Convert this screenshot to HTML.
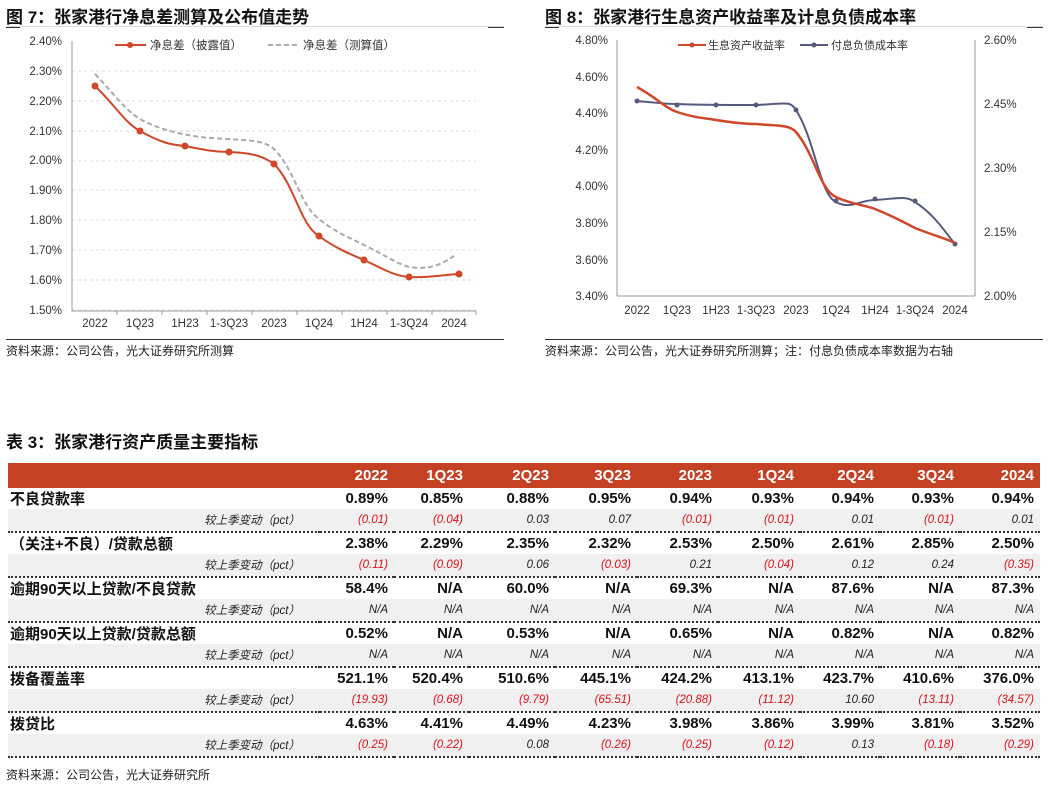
<!DOCTYPE html><html><head><meta charset="utf-8"><style>
body{margin:0;width:1055px;height:786px;background:#fff;font-family:"Liberation Sans","Noto Sans CJK SC",sans-serif;position:relative;overflow:hidden}
.a{position:absolute;white-space:nowrap}
.t{font-size:17px;font-weight:bold;color:#111}
.src{font-size:12px;color:#222}
table{position:absolute;left:8px;top:463px;width:1032px;border-collapse:collapse;font-size:15px;table-layout:fixed}
td{padding:0 6px 0 0;text-align:right;white-space:nowrap;overflow:visible}
tr.h td{background:#c44223;color:#fff;font-weight:bold;height:25px;font-size:15px}
tr.m td{height:21px;font-weight:bold;color:#111}
tr.m td:first-child{text-align:left;padding-left:2px}
tr.s td{height:22px;background:#f0f0f0;font-style:italic;font-size:11.5px;color:#222;border-bottom:2px dotted #333}
tr.s td:first-child{padding-right:20px}
tr.s td.r{color:#e0101a}
</style></head><body>
<div class="a t" style="left:6px;top:3px">图 7：张家港行净息差测算及公布值走势</div>
<div class="a t" style="left:545px;top:3px">图 8：张家港行生息资产收益率及计息负债成本率</div>
<div class="a" style="left:6px;top:26px;width:498px;border-top:1px solid #ddd"></div>
<div class="a" style="left:545px;top:26px;width:498px;border-top:1px solid #ddd"></div>
<div class="a" style="left:6px;top:27px;width:14px;border-top:1px solid #333"></div>
<div class="a" style="left:488px;top:27px;width:16px;border-top:1px solid #333"></div>
<div class="a" style="left:545px;top:27px;width:14px;border-top:1px solid #333"></div>
<div class="a" style="left:1027px;top:27px;width:16px;border-top:1px solid #333"></div>
<div class="a" style="left:6px;top:339px;width:498px;border-top:1px solid #333"></div>
<div class="a" style="left:545px;top:339px;width:498px;border-top:1px solid #333"></div>
<div class="a src" style="left:6px;top:342px">资料来源：公司公告，光大证券研究所测算</div>
<div class="a src" style="left:545px;top:342px">资料来源：公司公告，光大证券研究所测算；注：付息负债成本率数据为右轴</div>
<svg class="a" style="left:0;top:30px" width="1055" height="310" font-family="Liberation Sans,Noto Sans CJK SC,sans-serif" font-size="11.5" fill="#333">
<g stroke="#ddd" stroke-dasharray="3,3">
<line x1="72" x2="476" y1="41" y2="41"/><line x1="72" x2="476" y1="71" y2="71"/><line x1="72" x2="476" y1="101" y2="101"/><line x1="72" x2="476" y1="131" y2="131"/><line x1="72" x2="476" y1="160" y2="160"/><line x1="72" x2="476" y1="190" y2="190"/><line x1="72" x2="476" y1="220" y2="220"/><line x1="72" x2="476" y1="250" y2="250"/><line x1="72" x2="476" y1="280" y2="280"/>
</g>
<g transform="translate(0,-30)">
<g stroke="#999" fill="none"><path d="M72 41V311H476"/><path d="M117 311v4M162 311v4M207 311v4M252 311v4M297 311v4M342 311v4M387 311v4M432 311v4M476 311v4"/></g>
<g text-anchor="end"><text x="62" y="45">2.40%</text><text x="62" y="75">2.30%</text><text x="62" y="105">2.20%</text><text x="62" y="135">2.10%</text><text x="62" y="164">2.00%</text><text x="62" y="194">1.90%</text><text x="62" y="224">1.80%</text><text x="62" y="254">1.70%</text><text x="62" y="284">1.60%</text><text x="62" y="314">1.50%</text></g>
<g text-anchor="middle"><text x="95" y="327">2022</text><text x="140" y="327">1Q23</text><text x="185" y="327">1H23</text><text x="229" y="327">1-3Q23</text><text x="274" y="327">2023</text><text x="319" y="327">1Q24</text><text x="364" y="327">1H24</text><text x="409" y="327">1-3Q24</text><text x="454" y="327">2024</text></g>
<path d="M95 74C115 95 125 110 140 119C160 130 180 134 200 137C240 141 262 138 274 149C295 170 300 205 319 219C335 232 350 238 364 245C385 255 395 263 409 267C430 270 440 265 454 256" stroke="#aaa" stroke-width="2" stroke-dasharray="5,3" fill="none"/>
<path d="M95 86C115 105 125 123 140 131C160 142 170 145 185 146C205 150 215 152 229 152C250 153 262 155 274 164C295 185 300 225 319 236C335 248 350 254 364 260C385 270 395 276 409 277C430 278 440 275 459 274" stroke="#d0472a" stroke-width="2" fill="none"/>
<g fill="#d0472a"><circle cx="95" cy="86" r="3.5"/><circle cx="140" cy="131" r="3.5"/><circle cx="185" cy="146" r="3.5"/><circle cx="229" cy="152" r="3.5"/><circle cx="274" cy="164" r="3.5"/><circle cx="319" cy="236" r="3.5"/><circle cx="364" cy="260" r="3.5"/><circle cx="409" cy="277" r="3.5"/><circle cx="459" cy="274" r="3.5"/></g>
<line x1="115" x2="146" y1="45" y2="45" stroke="#d0472a" stroke-width="2"/><circle cx="130" cy="45" r="3" fill="#d0472a"/>
<text x="150" y="49">净息差（披露值）</text>
<line x1="268" x2="298" y1="45" y2="45" stroke="#aaa" stroke-width="2" stroke-dasharray="5,3"/>
<text x="303" y="49">净息差（测算值）</text>
<g stroke="#999" fill="none"><path d="M617 296H975M617 40V296M975 40V296"/></g>
<g text-anchor="end"><text x="608" y="44">4.80%</text><text x="608" y="81">4.60%</text><text x="608" y="117">4.40%</text><text x="608" y="154">4.20%</text><text x="608" y="190">4.00%</text><text x="608" y="227">3.80%</text><text x="608" y="264">3.60%</text><text x="608" y="300">3.40%</text></g>
<g><text x="984" y="44">2.60%</text><text x="984" y="108">2.45%</text><text x="984" y="172">2.30%</text><text x="984" y="236">2.15%</text><text x="984" y="300">2.00%</text></g>
<g text-anchor="middle"><text x="637" y="314">2022</text><text x="677" y="314">1Q23</text><text x="716" y="314">1H23</text><text x="756" y="314">1-3Q23</text><text x="796" y="314">2023</text><text x="836" y="314">1Q24</text><text x="875" y="314">1H24</text><text x="915" y="314">1-3Q24</text><text x="955" y="314">2024</text></g>
<path d="M637 101C660 103 665 104 677 104C700 105 720 105 756 105C785 104 790 100 796 110C815 140 820 195 836 202C850 210 860 200 875 200C895 199 905 195 915 202C935 215 945 232 955 244" stroke="#555a7e" stroke-width="2" fill="none"/>
<g fill="#555a7e"><circle cx="637" cy="101" r="2.5"/><circle cx="677" cy="105" r="2.5"/><circle cx="716" cy="105" r="2.5"/><circle cx="756" cy="105" r="2.5"/><circle cx="796" cy="110" r="2.5"/><circle cx="836" cy="201" r="2.5"/><circle cx="875" cy="199" r="2.5"/><circle cx="915" cy="201" r="2.5"/><circle cx="955" cy="244" r="2.5"/></g>
<path d="M637 87C660 100 665 108 677 112C695 118 705 118 716 120C735 123 745 124 756 124C780 126 790 125 796 132C815 155 820 190 836 197C850 204 865 205 875 209C895 217 905 223 915 228C935 236 945 238 955 243" stroke="#d0472a" stroke-width="2.5" fill="none"/>
<line x1="678" x2="706" y1="45" y2="45" stroke="#d0472a" stroke-width="2"/><circle cx="692" cy="45" r="2.5" fill="#d0472a"/>
<text x="708" y="49" font-size="11">生息资产收益率</text>
<line x1="800" x2="828" y1="45" y2="45" stroke="#555a7e" stroke-width="2"/><circle cx="814" cy="45" r="2.5" fill="#555a7e"/>
<text x="831" y="49" font-size="11">付息负债成本率</text>
</g>
</svg>
<div class="a t" style="left:6px;top:428px">表 3：张家港行资产质量主要指标</div>
<table>
<colgroup><col style="width:312px"><col style="width:74px"><col style="width:75px"><col style="width:86px"><col style="width:82px"><col style="width:81px"><col style="width:82px"><col style="width:80px"><col style="width:80px"><col style="width:80px"></colgroup>
<tr class="h"><td></td><td>2022</td><td>1Q23</td><td>2Q23</td><td>3Q23</td><td>2023</td><td>1Q24</td><td>2Q24</td><td>3Q24</td><td>2024</td></tr>
<tr class="m"><td>不良贷款率</td><td>0.89%</td><td>0.85%</td><td>0.88%</td><td>0.95%</td><td>0.94%</td><td>0.93%</td><td>0.94%</td><td>0.93%</td><td>0.94%</td></tr>
<tr class="s"><td>较上季变动（pct）</td><td class="r">(0.01)</td><td class="r">(0.04)</td><td>0.03</td><td>0.07</td><td class="r">(0.01)</td><td class="r">(0.01)</td><td>0.01</td><td class="r">(0.01)</td><td>0.01</td></tr>
<tr class="m"><td>（关注+不良）/贷款总额</td><td>2.38%</td><td>2.29%</td><td>2.35%</td><td>2.32%</td><td>2.53%</td><td>2.50%</td><td>2.61%</td><td>2.85%</td><td>2.50%</td></tr>
<tr class="s"><td>较上季变动（pct）</td><td class="r">(0.11)</td><td class="r">(0.09)</td><td>0.06</td><td class="r">(0.03)</td><td>0.21</td><td class="r">(0.04)</td><td>0.12</td><td>0.24</td><td class="r">(0.35)</td></tr>
<tr class="m"><td>逾期90天以上贷款/不良贷款</td><td>58.4%</td><td>N/A</td><td>60.0%</td><td>N/A</td><td>69.3%</td><td>N/A</td><td>87.6%</td><td>N/A</td><td>87.3%</td></tr>
<tr class="s"><td>较上季变动（pct）</td><td>N/A</td><td>N/A</td><td>N/A</td><td>N/A</td><td>N/A</td><td>N/A</td><td>N/A</td><td>N/A</td><td>N/A</td></tr>
<tr class="m"><td>逾期90天以上贷款/贷款总额</td><td>0.52%</td><td>N/A</td><td>0.53%</td><td>N/A</td><td>0.65%</td><td>N/A</td><td>0.82%</td><td>N/A</td><td>0.82%</td></tr>
<tr class="s"><td>较上季变动（pct）</td><td>N/A</td><td>N/A</td><td>N/A</td><td>N/A</td><td>N/A</td><td>N/A</td><td>N/A</td><td>N/A</td><td>N/A</td></tr>
<tr class="m"><td>拨备覆盖率</td><td>521.1%</td><td>520.4%</td><td>510.6%</td><td>445.1%</td><td>424.2%</td><td>413.1%</td><td>423.7%</td><td>410.6%</td><td>376.0%</td></tr>
<tr class="s"><td>较上季变动（pct）</td><td class="r">(19.93)</td><td class="r">(0.68)</td><td class="r">(9.79)</td><td class="r">(65.51)</td><td class="r">(20.88)</td><td class="r">(11.12)</td><td>10.60</td><td class="r">(13.11)</td><td class="r">(34.57)</td></tr>
<tr class="m"><td>拨贷比</td><td>4.63%</td><td>4.41%</td><td>4.49%</td><td>4.23%</td><td>3.98%</td><td>3.86%</td><td>3.99%</td><td>3.81%</td><td>3.52%</td></tr>
<tr class="s"><td>较上季变动（pct）</td><td class="r">(0.25)</td><td class="r">(0.22)</td><td>0.08</td><td class="r">(0.26)</td><td class="r">(0.25)</td><td class="r">(0.12)</td><td>0.13</td><td class="r">(0.18)</td><td class="r">(0.29)</td></tr>
</table>
<div class="a src" style="left:6px;top:766px">资料来源：公司公告，光大证券研究所</div>
</body></html>
